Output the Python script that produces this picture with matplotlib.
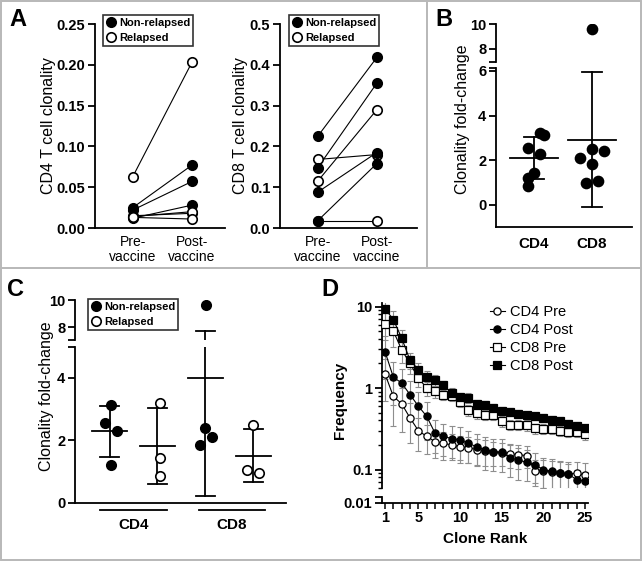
import matplotlib
matplotlib.use('Agg')
import matplotlib.pyplot as plt
import numpy as np
from matplotlib.lines import Line2D
from matplotlib.patches import Rectangle
import matplotlib.transforms as mtransforms

plt.rcParams['font.family'] = ['Liberation Sans', 'DejaVu Sans']

# ---------------- data ----------------
# Panel A: clonality pre / post vaccine
cd4_pre_nonrel = [0.025, 0.022, 0.012, 0.015]
cd4_post_nonrel = [0.077, 0.057, 0.028, 0.018]
cd4_pre_rel = [0.063, 0.014, 0.013]
cd4_post_rel = [0.203, 0.020, 0.011]

cd8_pre_nonrel = [0.225, 0.148, 0.088, 0.018]
cd8_post_nonrel = [0.418, 0.355, 0.185, 0.158]
cd8_pre_rel = [0.168, 0.115, 0.018]
cd8_post_rel = [0.180, 0.290, 0.018]

# Panels B / C: fold-change
fc_cd4_nonrel = [3.15, 2.55, 2.30, 1.20]
fc_cd4_rel = [3.20, 1.45, 0.85]
fc_cd8_nonrel = [9.60, 2.40, 2.10, 1.85]
fc_cd8_rel = [2.50, 1.07, 0.97]

# Panel D: clone rank frequency
rank = list(range(1, 26))
cd4_pre = [1.49, 0.79, 0.64, 0.43, 0.30, 0.255, 0.22, 0.21, 0.20, 0.19, 0.186, 0.175, 0.17,
           0.164, 0.159, 0.155, 0.152, 0.148, 0.097, 0.095, 0.093, 0.090, 0.088, 0.090, 0.085]
cd4_pre_err = [0.8, 0.45, 0.35, 0.22, 0.13, 0.10, 0.08, 0.08, 0.07, 0.07, 0.065, 0.06, 0.06,
               0.055, 0.05, 0.05, 0.05, 0.045, 0.035, 0.035, 0.035, 0.035, 0.035, 0.035, 0.035]
cd4_post = [2.8, 1.36, 1.15, 0.83, 0.60, 0.45, 0.28, 0.255, 0.24, 0.23, 0.21, 0.19, 0.175,
            0.166, 0.164, 0.14, 0.13, 0.123, 0.114, 0.10, 0.095, 0.091, 0.088, 0.075, 0.072]
cd4_post_err = [1.5, 0.75, 0.55, 0.40, 0.30, 0.22, 0.12, 0.11, 0.10, 0.10, 0.09, 0.08, 0.075,
                0.07, 0.07, 0.06, 0.055, 0.05, 0.045, 0.04, 0.04, 0.035, 0.03, 0.025, 0.02]
cd8_pre = [6.1, 5.0, 2.95, 2.0, 1.33, 1.0, 0.91, 0.83, 0.79, 0.67, 0.53, 0.49, 0.47,
           0.46, 0.39, 0.355, 0.355, 0.35, 0.32, 0.315, 0.31, 0.295, 0.29, 0.29, 0.27]
cd8_pre_err = [2.2, 1.8, 0.9, 0.5, 0.3, 0.2, 0.15, 0.12, 0.10, 0.09, 0.08, 0.07, 0.07,
               0.06, 0.06, 0.05, 0.05, 0.05, 0.045, 0.045, 0.04, 0.04, 0.04, 0.04, 0.04]
cd8_post = [9.4, 6.9, 4.1, 2.2, 1.68, 1.36, 1.26, 1.08, 0.87, 0.77, 0.76, 0.64, 0.62,
            0.57, 0.52, 0.51, 0.48, 0.46, 0.45, 0.43, 0.41, 0.39, 0.36, 0.34, 0.32]
cd8_post_err = [2.8, 2.0, 1.0, 0.5, 0.35, 0.25, 0.2, 0.15, 0.12, 0.10, 0.10, 0.08, 0.08,
                0.07, 0.06, 0.06, 0.055, 0.05, 0.05, 0.05, 0.045, 0.045, 0.04, 0.04, 0.035]

# jitter offsets (positions only)
jit_b_cd4 = [0.18, -0.1, 0.1, -0.1, 0.1, 0.0, -0.1]
jit_b_cd8 = [0.0, 0.2, -0.2, 0.0, 0.0, 0.1, -0.1]
jit_c_cd4_nr = [0.03, -0.09, 0.16, 0.03]
jit_c_cd4_r = [0.06, 0.06, 0.06]
jit_c_cd8_nr = [0.02, 0.0, 0.13, -0.12]
jit_c_cd8_r = [0.0, -0.13, 0.12]

# ---------------- figure ----------------
W, H = 642, 561
fig = plt.figure(figsize=(W / 100, H / 100), dpi=100)


def box(x0, y0, x1, y1):
    return [x0 / W, 1 - y1 / H, (x1 - x0) / W, (y1 - y0) / H]


SPW = 1.3
TICKFS = 10.5
LBLFS = 11.5


def style(ax, bottom=True):
    for s in ['top', 'right']:
        ax.spines[s].set_visible(False)
    ax.spines['left'].set_linewidth(SPW)
    ax.spines['bottom'].set_linewidth(SPW)
    if not bottom:
        ax.spines['bottom'].set_visible(False)
    ax.tick_params(axis='y', which='both', direction='out', length=5, width=SPW,
                   labelsize=TICKFS, pad=2)
    ax.set_facecolor('none')


def bold_yticks(ax, ticks, labels):
    ax.set_yticks(ticks)
    ax.set_yticklabels(labels, fontweight='bold', fontsize=TICKFS)


MS = 6.8
filled = dict(marker='o', ms=MS, mfc='black', mec='black', mew=1.2, ls='none', zorder=4)
opened = dict(marker='o', ms=MS, mfc='white', mec='black', mew=1.2, ls='none', zorder=4)


def legend_handles():
    return [Line2D([], [], **filled), Line2D([], [], **opened)]


def add_legend(ax, x0, y0):
    leg = ax.legend(legend_handles(), ['Non-relapsed', 'Relapsed'], loc='upper left',
                    bbox_to_anchor=(x0 / W, 1 - y0 / H), bbox_transform=fig.transFigure,
                    frameon=True, fancybox=False, edgecolor='black', borderpad=0.25,
                    handlelength=0.9, handletextpad=0.3, labelspacing=0.45,
                    borderaxespad=0, prop=dict(weight='bold', size=8))
    leg.get_frame().set_linewidth(1.2)
    leg.set_zorder(10)


# ---- Panel A: CD4 ----
axA1 = fig.add_axes(box(95, 24, 225, 228))
style(axA1)
axA1.set_xlim(-0.64, 1.56)
axA1.set_ylim(0, 0.25)
bold_yticks(axA1, [0, 0.05, 0.10, 0.15, 0.20, 0.25], ['0.00', '0.05', '0.10', '0.15', '0.20', '0.25'])
for a, b in zip(cd4_pre_nonrel + cd4_pre_rel, cd4_post_nonrel + cd4_post_rel):
    axA1.plot([0, 1], [a, b], color='black', lw=0.8, zorder=2)
axA1.plot([0] * 4, cd4_pre_nonrel, **filled)
axA1.plot([1] * 4, cd4_post_nonrel, **filled)
axA1.plot([0] * 3, cd4_pre_rel, **opened)
axA1.plot([1] * 3, cd4_post_rel, **opened)
axA1.set_xticks([0, 1])
axA1.set_xticklabels(['Pre-\nvaccine', 'Post-\nvaccine'], fontsize=10, linespacing=1.1)
axA1.tick_params(axis='x', length=0, pad=5)
axA1.set_ylabel('CD4 T cell clonality', fontsize=LBLFS)
axA1.yaxis.set_label_coords(-0.30, 0.5)
add_legend(axA1, 103, 15)

# ---- Panel A: CD8 ----
axA2 = fig.add_axes(box(280, 24, 417, 228))
style(axA2)
axA2.set_xlim(-0.64, 1.68)
axA2.set_ylim(0, 0.5)
bold_yticks(axA2, [0, 0.1, 0.2, 0.3, 0.4, 0.5], ['0.0', '0.1', '0.2', '0.3', '0.4', '0.5'])
for a, b in zip(cd8_pre_nonrel + cd8_pre_rel, cd8_post_nonrel + cd8_post_rel):
    axA2.plot([0, 1], [a, b], color='black', lw=0.8, zorder=2)
axA2.plot([0] * 3, cd8_pre_rel, **opened)
axA2.plot([1] * 3, cd8_post_rel, **opened)
axA2.plot([0] * 4, cd8_pre_nonrel, **filled)
axA2.plot([1] * 4, cd8_post_nonrel, **filled)
axA2.set_xticks([0, 1])
axA2.set_xticklabels(['Pre-\nvaccine', 'Post-\nvaccine'], fontsize=10, linespacing=1.1)
axA2.tick_params(axis='x', length=0, pad=5)
axA2.set_ylabel('CD8 T cell clonality', fontsize=LBLFS)
axA2.yaxis.set_label_coords(-0.232, 0.5)
add_legend(axA2, 289, 15)


def mean_sd(ax, x, vals, hw, chw, lw=1.3):
    m = np.mean(vals)
    s = np.std(vals, ddof=1)
    ax.plot([x - hw, x + hw], [m, m], color='black', lw=lw, zorder=3)
    ax.plot([x, x], [m - s, m + s], color='black', lw=lw, zorder=3)
    ax.plot([x - chw, x + chw], [m + s, m + s], color='black', lw=lw, zorder=3)
    ax.plot([x - chw, x + chw], [m - s, m - s], color='black', lw=lw, zorder=3)


# ---- Panel B ----
b_lo = (-0.985, 6.13)
b_hi = (6.96, 10.0)
axBu = fig.add_axes(box(496, 24, 632, 62))
axBl = fig.add_axes(box(496, 68, 632, 227))
style(axBu, bottom=False)
style(axBl)
axBu.set_ylim(*b_hi)
axBl.set_ylim(*b_lo)
bold_yticks(axBu, [8, 10], ['8', '10'])
bold_yticks(axBl, [0, 2, 4, 6], ['0', '2', '4', '6'])
axBu.set_yticks([b_hi[0]], minor=True)
axBl.set_yticks([b_lo[1]], minor=True)
b_cd4 = fc_cd4_nonrel + fc_cd4_rel
b_cd8 = fc_cd8_nonrel + fc_cd8_rel
for ax in (axBu, axBl):
    ax.set_xlim(-0.655, 1.69)
    ax.plot(np.zeros(len(b_cd4)) + np.array(jit_b_cd4), b_cd4, **dict(filled, ms=7.2))
    ax.plot(np.ones(len(b_cd8)) + np.array(jit_b_cd8), b_cd8, **dict(filled, ms=7.2))
    mean_sd(ax, 0, b_cd4, 0.41, 0.18)
    mean_sd(ax, 1, b_cd8, 0.41, 0.18)
axBu.set_xticks([])
axBl.set_xticks([0, 1])
axBl.set_xticklabels(['CD4', 'CD8'], fontweight='bold', fontsize=11)
axBl.tick_params(axis='x', length=0, pad=7)
axBl.set_ylabel('Clonality fold-change', fontsize=LBLFS)
axBl.yaxis.set_label_coords(-0.19, 0.68)

# ---- Panel C ----
c_lo = (0, 4.99)
c_hi = (7.04, 10.0)
axCu = fig.add_axes(box(75, 300, 286, 340))
axCl = fig.add_axes(box(75, 347, 286, 503))
style(axCu, bottom=False)
style(axCl)
axCu.set_ylim(*c_hi)
axCl.set_ylim(*c_lo)
bold_yticks(axCu, [8, 10], ['8', '10'])
bold_yticks(axCl, [0, 2, 4], ['0', '2', '4'])
axCu.set_yticks([c_hi[0]], minor=True)
axCl.set_yticks([c_lo[1]], minor=True)
groups = [(0, fc_cd4_nonrel, jit_c_cd4_nr, filled),
          (1, fc_cd4_rel, jit_c_cd4_r, opened),
          (2, fc_cd8_nonrel, jit_c_cd8_nr, filled),
          (3, fc_cd8_rel, jit_c_cd8_r, opened)]
for ax in (axCu, axCl):
    ax.set_xlim(-0.72, 3.68)
    for xg, vals, jit, sty in groups:
        ax.plot(np.full(len(vals), xg) + np.array(jit), vals, **sty)
        mean_sd(ax, xg, vals, 0.36, 0.19)
axCu.set_xticks([])
axCl.set_xticks([])
trans = mtransforms.blended_transform_factory(axCl.transData, axCl.transAxes)
for xc, lab in [(0.5, 'CD4'), (2.55, 'CD8')]:
    axCl.plot([xc - 0.69, xc + 0.69], [-0.045, -0.045], color='black', lw=1.3,
              transform=trans, clip_on=False)
    axCl.text(xc, -0.14, lab, transform=trans, ha='center', va='center',
              fontweight='bold', fontsize=11)
axCl.set_ylabel('Clonality fold-change', fontsize=LBLFS)
axCl.yaxis.set_label_coords(-0.10, 0.686)
add_legend(axCu, 88, 299)

# ---- Panel D ----
axD = fig.add_axes(box(382, 303, 588, 488))
axDb = fig.add_axes(box(382, 497, 588, 503))
style(axD, bottom=False)
style(axDb)
axD.set_yscale('log')
axD.set_ylim(0.0593, 11.04)
axD.set_yticks([0.1, 1, 10])
axD.set_yticklabels(['0.1', '1', '10'], fontweight='bold', fontsize=TICKFS)
axD.yaxis.set_minor_locator(matplotlib.ticker.LogLocator(base=10, subs=np.arange(2, 10)))
axD.yaxis.set_minor_formatter(matplotlib.ticker.NullFormatter())
axD.tick_params(axis='y', which='minor', length=3, width=1.0)
axD.set_xticks([])
axDb.set_ylim(0.01, 0.0125)
axDb.set_yticks([0.01])
axDb.set_yticklabels(['0.01'], fontweight='bold', fontsize=TICKFS)
axDb.set_yticks([0.0125], minor=True)
axDb.tick_params(axis='y', which='minor', length=5, width=SPW)
for ax in (axD, axDb):
    ax.set_xlim(0.64, 25.36)
axDb.set_xticks([1, 5, 10, 15, 20, 25])
axDb.set_xticklabels(['1', '5', '10', '15', '20', '25'], fontweight='bold', fontsize=TICKFS)
axDb.set_xticks(rank, minor=True)
axDb.tick_params(axis='x', which='both', direction='out', length=4, width=1.1, pad=2)
axDb.set_xlabel('Clone Rank', fontweight='bold', fontsize=11, labelpad=5)

series = [
    ('CD4 Pre', cd4_pre, cd4_pre_err, 'o', 'white'),
    ('CD4 Post', cd4_post, cd4_post_err, 'o', 'black'),
    ('CD8 Pre', cd8_pre, cd8_pre_err, 's', 'white'),
    ('CD8 Post', cd8_post, cd8_post_err, 's', 'black'),
]
handles = []
for name, vals, err, mk, fc in series:
    axD.errorbar(rank, vals, yerr=err, fmt='none', ecolor='#8e8e8e', elinewidth=0.8,
                 capsize=2.3, capthick=0.8, zorder=1)
    ln, = axD.plot(rank, vals, marker=mk, ms=5.2, mfc=fc, mec='black', mew=0.9,
                   color='black', lw=0.8, zorder=3)
    handles.append(ln)
legD = axD.legend(handles, [s[0] for s in series], loc='upper left',
                  bbox_to_anchor=(490 / W, 1 - 305 / H), bbox_transform=fig.transFigure,
                  frameon=False, handlelength=1.0, handletextpad=0.4, labelspacing=0.28,
                  borderaxespad=0, borderpad=0, prop=dict(size=10.5))
axD.set_ylabel('Frequency', fontweight='bold', fontsize=11)
axD.yaxis.set_label_coords(-0.17, 0.476)

# ---- panel letters ----
for lab, x, y in [('A', 18, 19), ('B', 444, 20), ('C', 15, 290), ('D', 330, 289)]:
    fig.text(x / W, 1 - y / H, lab, fontsize=17, fontweight='bold', ha='center', va='center')

# ---- frame / dividers ----
gc = '#b8b8b8'
fig.add_artist(Rectangle((0.8 / W, 0.8 / H), (W - 1.6) / W, (H - 1.6) / H, transform=fig.transFigure,
                         fill=False, edgecolor=gc, lw=1.4))
fig.add_artist(Line2D([0, 1], [1 - 268 / H, 1 - 268 / H], transform=fig.transFigure, color=gc, lw=1.4))
fig.add_artist(Line2D([427 / W, 427 / W], [1 - 268 / H, 1], transform=fig.transFigure, color=gc, lw=1.4))

fig.savefig('out.png', dpi=100)
